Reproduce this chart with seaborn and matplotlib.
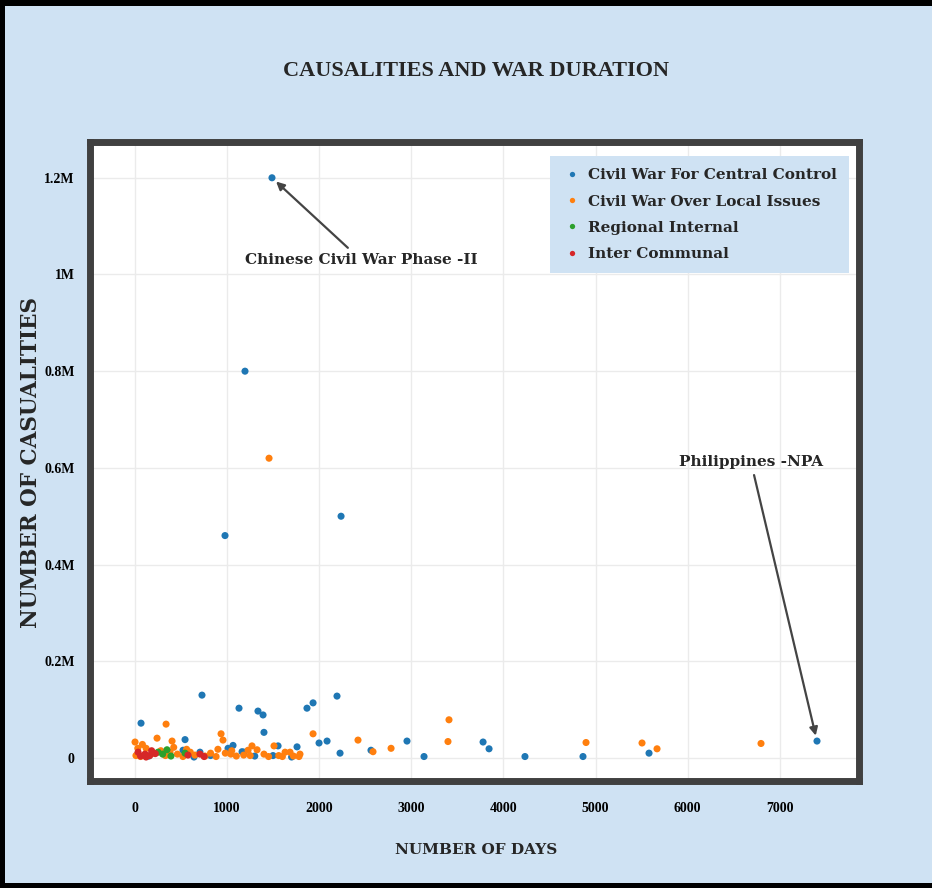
import matplotlib
matplotlib.use("Agg")
import matplotlib.pyplot as plt
from matplotlib.patches import Rectangle
from matplotlib.ticker import FuncFormatter
import pandas as pd
import seaborn as sns

# ---------------- data ----------------
central_days = [1487, 1194, 977, 2237, 727, 65, 1129, 1335, 1390, 1400, 1867, 1933, 2193,
                1998, 2085, 2226, 2562, 2953, 3138, 3779, 3844, 4234, 4864, 5581, 7405,
                543, 1064, 1162, 1498, 1553, 1759, 30, 150, 521, 640, 705, 1010, 1183, 820,
                1300, 1700]
central_cas = [1200000, 800000, 460000, 500000, 130000, 72000, 103000, 97000, 89000, 53000,
               103000, 114000, 128000, 31000, 35000, 10000, 16000, 35000, 3000, 33000, 19000,
               3000, 3000, 10000, 35000, 38000, 26000, 13000, 5000, 25000, 23000, 8000, 4000,
               16000, 2000, 12000, 20000, 12000, 5000, 4000, 2000]

local_days = [1455, 337, 3409, 3398, 4897, 5505, 5668, 6797, 934, 955, 1933, 2421, 2584, 2780,
              0, 239, 402, 1629, 1791, 1683, 1509, 1270, 1227, 1325, 10, 60, 120, 200, 280,
              330, 420, 460, 520, 600, 650, 760, 820, 880, 1040, 1100, 1250, 1400, 1450, 1560,
              1720, 1780, 900, 1050, 80, 380, 560, 980, 1180, 1600, 30]
local_cas = [620000, 70000, 79000, 34000, 32000, 31000, 19000, 30000, 50000, 37000, 50000,
             37000, 13000, 20000, 33000, 41000, 35000, 12000, 8000, 12000, 25000, 25000, 16000,
             17000, 5000, 3000, 20000, 10000, 15000, 5000, 22000, 8000, 3000, 12000, 6000, 4000,
             10000, 3000, 8000, 4000, 5000, 8000, 3000, 5000, 4000, 3000, 18000, 15000,
             28000, 12000, 18000, 10000, 6000, 3000, 20000]

regional_days = [347, 543, 300, 390, 250]
regional_cas = [17000, 10000, 8000, 4000, 12000]

communal_days = [33, 108, 160, 220, 60, 575, 705, 750, 180, 120]
communal_cas = [12000, 8000, 5000, 9000, 4000, 6000, 8000, 3000, 15000, 2000]

categories = ["Civil War For Central Control", "Civil War Over Local Issues",
              "Regional Internal", "Inter Communal"]
x_ticks = [0, 1000, 2000, 3000, 4000, 5000, 6000, 7000]
y_ticks = [0, 200000, 400000, 600000, 800000, 1000000, 1200000]

frames = []
for cat, d, c in zip(categories,
                     [central_days, local_days, regional_days, communal_days],
                     [central_cas, local_cas, regional_cas, communal_cas]):
    frames.append(pd.DataFrame({"days": d, "casualties": c, "type": cat}))
df = pd.concat(frames, ignore_index=True)

# ---------------- style ----------------
BG = "#cfe2f3"
FONT = ["Liberation Serif", "DejaVu Serif"]
WIDE = ["DejaVu Serif", "Liberation Serif"]
sns.set_theme(style="whitegrid")
plt.rcParams["font.family"] = FONT
plt.rcParams["font.weight"] = "bold"

W, H = 932, 888
fig = plt.figure(figsize=(W / 100, H / 100), dpi=100, facecolor=BG)
ax = fig.add_axes([90 / W, (H - 781) / H, (859 - 90) / W, (781 - 142) / H])
ax.set_facecolor("white")

palette = ["#1f77b4", "#ff7f0e", "#2ca02c", "#d62728"]
sns.scatterplot(data=df, x="days", y="casualties", hue="type", hue_order=categories,
                palette=palette, s=26, linewidth=0, ax=ax)

ax.set_xlim(-489, 7861)
ax.set_ylim(-47600, 1274000)
ax.set_xticks(x_ticks)
ax.set_yticks(y_ticks)


def fmt_y(v, pos):
    if v == 0:
        return "0"
    m = v / 1e6
    return f"{m:g}M"


ax.yaxis.set_major_formatter(FuncFormatter(fmt_y))
ax.grid(True, color="#ebebeb", linewidth=1)
ax.tick_params(axis="both", length=0, labelsize=10, colors="black")
ax.tick_params(axis="x", pad=15)
ax.tick_params(axis="y", pad=11)
for lab in ax.get_xticklabels() + ax.get_yticklabels():
    lab.set_fontweight("bold")

for sp in ax.spines.values():
    sp.set_visible(True)
    sp.set_color("#404040")
    sp.set_linewidth(5)

ax.set_xlabel("NUMBER OF DAYS", fontsize=11, fontweight="bold", family=WIDE)
ax.set_ylabel("NUMBER OF CASUALITIES", fontsize=15.5, fontweight="bold", family=WIDE)
ax.xaxis.set_label_coords((476 - 90) / (859 - 90), -(843 - 781) / (781 - 142))
ax.yaxis.set_label_coords(-(90 - 42) / (859 - 90), (781 - 462) / (781 - 142))

leg = ax.legend(loc="upper right", bbox_to_anchor=(0.987, 0.978), frameon=True,
                facecolor=BG, edgecolor=BG, framealpha=1, fancybox=False,
                prop={"family": WIDE, "weight": "bold", "size": 11},
                markerscale=0.75, handletextpad=0.45, labelspacing=0.8,
                borderpad=0.8, borderaxespad=0, handlelength=1.2, title=None)
leg.get_frame().set_linewidth(0)

arrowprops = dict(arrowstyle="-|>", color="#444444", lw=1.6, mutation_scale=12,
                  shrinkA=2, shrinkB=4)
ax.annotate("Chinese Civil War Phase -II", xy=(1487, 1200000), xytext=(2454, 1030000),
            ha="center", va="center", fontsize=11, fontweight="bold", family=WIDE,
            arrowprops=arrowprops)
ax.annotate("Philippines -NPA", xy=(7405, 35000), xytext=(6688, 612000),
            ha="center", va="center", fontsize=11, fontweight="bold", family=WIDE,
            arrowprops=arrowprops)

fig.text(476 / W, 1 - 71 / H, "CAUSALITIES AND WAR DURATION", ha="center", va="center",
         fontsize=16, fontweight="bold")

# outer black border (left, top, bottom)
for (x0, y0, w, h) in [(0, 0, 5 / W, 1), (0, 1 - 6 / H, 1, 6 / H), (0, 0, 1, 5 / H)]:
    fig.patches.append(Rectangle((x0, y0), w, h, transform=fig.transFigure,
                                 facecolor="black", edgecolor="none", zorder=10))

fig.savefig("out.png", dpi=100, facecolor=BG)
